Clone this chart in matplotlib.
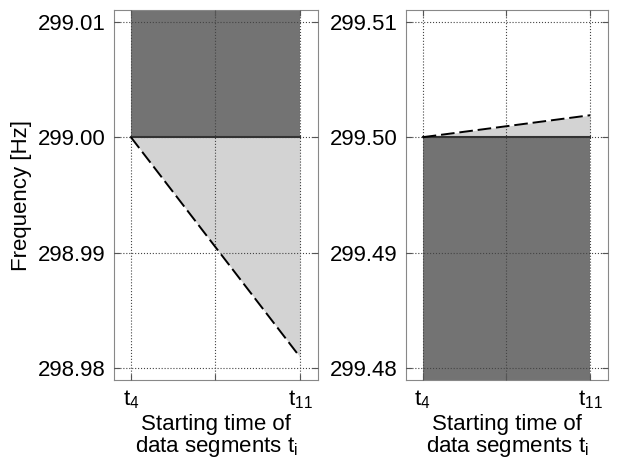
import matplotlib.pyplot as plt

plt.rcParams['font.family'] = ['Liberation Sans', 'DejaVu Sans']
plt.rcParams['mathtext.fontset'] = 'custom'
plt.rcParams['mathtext.rm'] = 'Liberation Sans'

# segment start times (t4 .. t11)
t = [4, 11]
xticks = [4, 7.5, 11]
xticklabels = [r'$\mathregular{t_4}$', '', r'$\mathregular{t_{11}}$']

# left panel
f0_left = [299.00, 299.00]
f_dash_left = [299.00, 298.981]
dark_left = [299.00, 299.02]
yticks_left = [298.98, 298.99, 299.00, 299.01]
ylim_left = (298.979, 299.011)

# right panel
f0_right = [299.50, 299.50]
f_dash_right = [299.50, 299.5019]
dark_right = [299.47, 299.50]
yticks_right = [299.48, 299.49, 299.50, 299.51]
ylim_right = (299.479, 299.511)

dark = '#737373'
light = '#d3d3d3'

fig = plt.figure(figsize=(6.22, 4.66), dpi=100)
ax1 = fig.add_axes([0.1833, 0.1845, 0.328, 0.794])
ax2 = fig.add_axes([0.6527, 0.1845, 0.3248, 0.794])

panels = [
    (ax1, f0_left, f_dash_left, dark_left, yticks_left, ylim_left, True),
    (ax2, f0_right, f_dash_right, dark_right, yticks_right, ylim_right, False),
]

for ax, f0, fd, dk, yt, yl, first in panels:
    ax.fill_between(t, dk[0], dk[1], color=dark, lw=0, zorder=1)
    ax.fill_between(t, f0, fd, color=light, lw=0, zorder=1)
    ax.plot(t, f0, color='#333333', lw=1.5, zorder=3)
    ax.plot(t, fd, color='black', lw=1.4, ls=(0, (7, 2.5)), zorder=3)
    ax.set_xlim(3.3, 11.75)
    ax.set_ylim(*yl)
    ax.set_xticks(xticks)
    ax.set_xticklabels(xticklabels)
    ax.set_yticks(yt)
    ax.set_yticklabels(['%.2f' % v for v in yt])
    ax.grid(True, ls=':', color='#444444', lw=0.8, zorder=2)
    ax.set_axisbelow(False)
    ax.tick_params(direction='in', labelsize=16, length=4, color='#555555',
                   pad=6, top=True, right=True)
    for s in ax.spines.values():
        s.set_color('#888888')
    ax.set_xlabel('Starting time of\ndata segments $\\mathregular{t_i}$', fontsize=16,
                  linespacing=0.95, labelpad=2)
    if first:
        ax.set_ylabel('Frequency [Hz]', fontsize=16)

plt.savefig('out.png', dpi=100)
